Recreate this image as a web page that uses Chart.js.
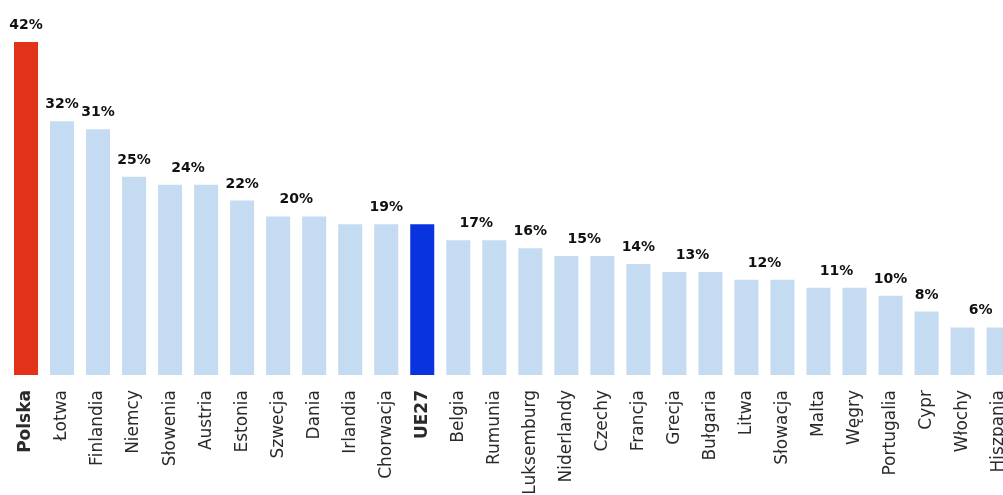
<!DOCTYPE html>
<html>
<head>
<meta charset="utf-8">
<script src="https://cdn.jsdelivr.net/npm/chart.js@4"></script>
<style>
  html, body { margin: 0; padding: 0; background: #fff; overflow: hidden; }
  #graf { display: block; width: 1026px; height: 495px; }
</style>
</head>
<body>
<canvas id="graf" width="1026" height="495"></canvas>
<script>
const kraje = [
  "Polska", "Łotwa", "Finlandia", "Niemcy", "Słowenia", "Austria", "Estonia",
  "Szwecja", "Dania", "Irlandia", "Chorwacja", "UE27", "Belgia", "Rumunia",
  "Luksemburg", "Niderlandy", "Czechy", "Francja", "Grecja", "Bułgaria",
  "Litwa", "Słowacja", "Malta", "Węgry", "Portugalia", "Cypr", "Włochy", "Hiszpania"
];
const wartosci = [
  42, 32, 31, 25, 24, 24, 22,
  20, 20, 19, 19, 19, 17, 17,
  16, 15, 15, 14, 13, 13,
  12, 12, 11, 11, 10, 8, 6, 6
];

const wyroznione = { "Polska": "#e3321a", "UE27": "#0a33e0" };
const kolorBazowy = "#c5dbf1";

// etykiety nad słupkami: jedna na grupę sąsiednich słupków o tej samej wartości
const etykietyGrup = {
  id: "etykietyGrup",
  afterDatasetsDraw(chart) {
    const ctx = chart.ctx;
    const meta = chart.getDatasetMeta(0);
    const dane = chart.data.datasets[0].data;
    ctx.save();
    ctx.font = "bold 14px 'DejaVu Sans'";
    ctx.fillStyle = "#111";
    ctx.textAlign = "center";
    ctx.textBaseline = "alphabetic";
    let i = 0;
    while (i < dane.length) {
      let j = i;
      while (j + 1 < dane.length && dane[j + 1] === dane[i]) j++;
      const x = (meta.data[i].x + meta.data[j].x) / 2;
      const y = meta.data[i].y;
      ctx.fillText(dane[i] + "%", x, y - 13);
      i = j + 1;
    }
    ctx.restore();
  }
};

new Chart(document.getElementById("graf"), {
  type: "bar",
  data: {
    labels: kraje,
    datasets: [{
      data: wartosci,
      backgroundColor: (c) => wyroznione[kraje[c.dataIndex]] || kolorBazowy,
      categoryPercentage: 1,
      barPercentage: 0.667
    }]
  },
  options: {
    responsive: false,
    devicePixelRatio: 1,
    animation: false,
    layout: { padding: { left: 8, top: 0, right: 0, bottom: 0 } },
    plugins: {
      legend: { display: false },
      tooltip: { enabled: false }
    },
    scales: {
      y: {
        display: false,
        min: 0,
        max: 47.3
      },
      x: {
        grid: { display: false },
        border: { display: false },
        afterFit(scale) { scale.height = 120; },
        ticks: {
          autoSkip: false,
          maxRotation: 90,
          minRotation: 90,
          padding: 7,
          color: "#2a2a2a",
          font: (c) => ({
            family: "'DejaVu Sans'",
            size: 17,
            weight: wyroznione[kraje[c.index]] ? "bold" : "normal"
          })
        }
      }
    }
  },
  plugins: [etykietyGrup]
});
</script>
</body>
</html>
